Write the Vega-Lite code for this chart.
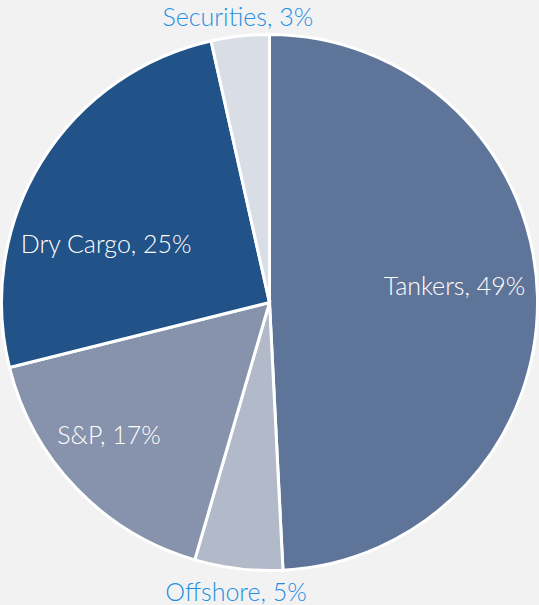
{
  "$schema": "https://vega.github.io/schema/vega-lite/v6.json",
  "width": 539,
  "height": 605,
  "autosize": {"type": "none"},
  "padding": 0,
  "background": "#f2f2f2",
  "view": {"stroke": null},
  "data": {
    "values": [
      {"segment": "Tankers", "share": 49.2, "order": 1, "label": "Tankers, 49%"},
      {"segment": "Offshore", "share": 5.3, "order": 2, "label": "Offshore, 5%"},
      {"segment": "S&P", "share": 16.6, "order": 3, "label": "S&P, 17%"},
      {"segment": "Dry Cargo", "share": 25.4, "order": 4, "label": "Dry Cargo, 25%"},
      {"segment": "Securities", "share": 3.5, "order": 5, "label": "Securities, 3%"}
    ]
  },
  "encoding": {
    "theta": {"field": "share", "type": "quantitative", "stack": true},
    "order": {"field": "order", "type": "quantitative"}
  },
  "layer": [
    {
      "mark": {"type": "arc", "stroke": "white", "strokeWidth": 3, "outerRadius": 268},
      "encoding": {
        "color": {
          "field": "segment",
          "type": "nominal",
          "scale": {
            "domain": ["Tankers", "Offshore", "S&P", "Dry Cargo", "Securities"],
            "range": ["#5f7499", "#b2bac9", "#8793ac", "#215288", "#d9dde5"]
          },
          "legend": null
        }
      }
    },
    {
      "mark": {"type": "text", "radius": 185, "dy": -11, "font": "Lato", "fontWeight": 300, "fontSize": 25, "color": "white"},
      "encoding": {"text": {"condition": {"test": "datum.segment == 'Tankers'", "field": "label"}, "value": ""}}
    },
    {
      "mark": {"type": "text", "radius": 172, "dx": -17, "dy": 33, "font": "Lato", "fontWeight": 300, "fontSize": 25, "color": "white"},
      "encoding": {"text": {"condition": {"test": "datum.segment == 'Dry Cargo'", "field": "label"}, "value": ""}}
    },
    {
      "mark": {"type": "text", "radius": 209, "dx": -10, "dy": -11, "font": "Lato", "fontWeight": 300, "fontSize": 25, "color": "white"},
      "encoding": {"text": {"condition": {"test": "datum.segment == 'S&P'", "field": "label"}, "value": ""}}
    },
    {
      "mark": {"type": "text", "radius": 289, "dy": 3, "font": "Lato", "fontWeight": 300, "fontSize": 25, "color": "#1f8fe3"},
      "encoding": {"text": {"condition": {"test": "datum.segment == 'Offshore' || datum.segment == 'Securities'", "field": "label"}, "value": ""}}
    }
  ]
}
